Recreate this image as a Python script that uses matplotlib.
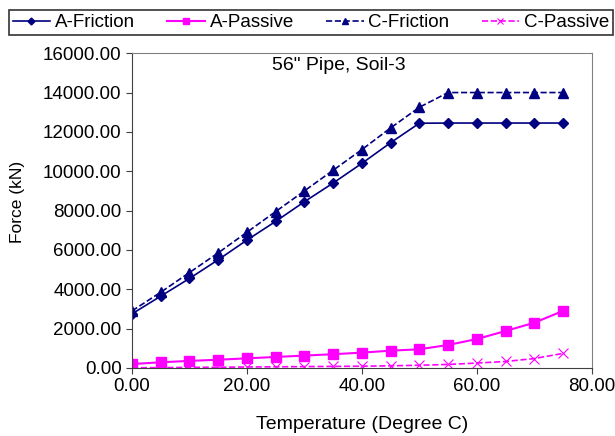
import matplotlib
matplotlib.use("Agg")
import matplotlib.pyplot as plt
from matplotlib.ticker import FormatStrFormatter

plt.rcParams['font.family'] = ['Liberation Sans', 'DejaVu Sans']

temp = [0, 5, 10, 15, 20, 25, 30, 35, 40, 45, 50, 55, 60, 65, 70, 75]
a_friction = [2750, 3650, 4550, 5500, 6500, 7450, 8450, 9400, 10400, 11450,
              12440, 12450, 12450, 12450, 12450, 12450]
c_friction = [2900, 3850, 4850, 5850, 6900, 7950, 9000, 10050, 11100, 12200,
              13250, 14000, 14000, 14000, 14000, 14000]
a_passive = [200, 290, 360, 420, 490, 560, 630, 700, 780, 880,
             950, 1170, 1470, 1880, 2300, 2900]
c_passive = [10, 20, 30, 40, 50, 60, 70, 80, 90, 110,
             140, 180, 250, 330, 480, 740]

navy = '#000080'
pink = '#ff00ff'

fig = plt.figure(figsize=(6.15, 4.36), dpi=100)
ax = fig.add_axes([0.2146, 0.156, 0.7476, 0.722])

l1, = ax.plot(temp, a_friction, '-', color=navy, marker='D', markersize=5, lw=1.2)
l2, = ax.plot(temp, a_passive, '-', color=pink, marker='s', markersize=7, lw=1.5)
l3, = ax.plot(temp, c_friction, '--', color=navy, marker='^', markersize=7, lw=1.2)
l4, = ax.plot(temp, c_passive, '--', color=pink, marker='x', markersize=7, lw=1.2,
              markeredgewidth=0.8)

ax.set_xlim(0, 80)
ax.set_ylim(0, 16000)
ax.set_xticks([0, 20, 40, 60, 80])
ax.set_yticks(range(0, 16001, 2000))
ax.xaxis.set_major_formatter(FormatStrFormatter('%.2f'))
ax.yaxis.set_major_formatter(FormatStrFormatter('%.2f'))
ax.tick_params(labelsize=13.5, length=4.5, color='#404040', pad=3)

for s in ['top', 'right']:
    ax.spines[s].set_color('#808080')
for s in ['left', 'bottom']:
    ax.spines[s].set_color('#404040')

ax.set_xlabel('Temperature (Degree C)', fontsize=14, va='center')
ax.xaxis.set_label_coords(0.5, -0.178)
ax.set_ylabel('Force (kN)', fontsize=12.5, va='center')
ax.yaxis.set_label_coords(-0.248, 0.527)
ax.text(0.449, 0.960, '56" Pipe, Soil-3', transform=ax.transAxes,
        ha='center', va='center', fontsize=14)

leg = fig.legend([l1, l2, l3, l4], ['A-Friction', 'A-Passive', 'C-Friction', 'C-Passive'],
                 loc='lower left', bbox_to_anchor=(0.0146, 0.92, 0.982, 0.071),
                 mode='expand', ncol=4, fontsize=13.5, frameon=True, fancybox=False,
                 edgecolor='black', handlelength=2.0, handletextpad=0.25,
                 borderaxespad=0, borderpad=0.2, markerscale=0.7)
leg.get_frame().set_linewidth(1.2)

fig.savefig('out.png', dpi=100)
